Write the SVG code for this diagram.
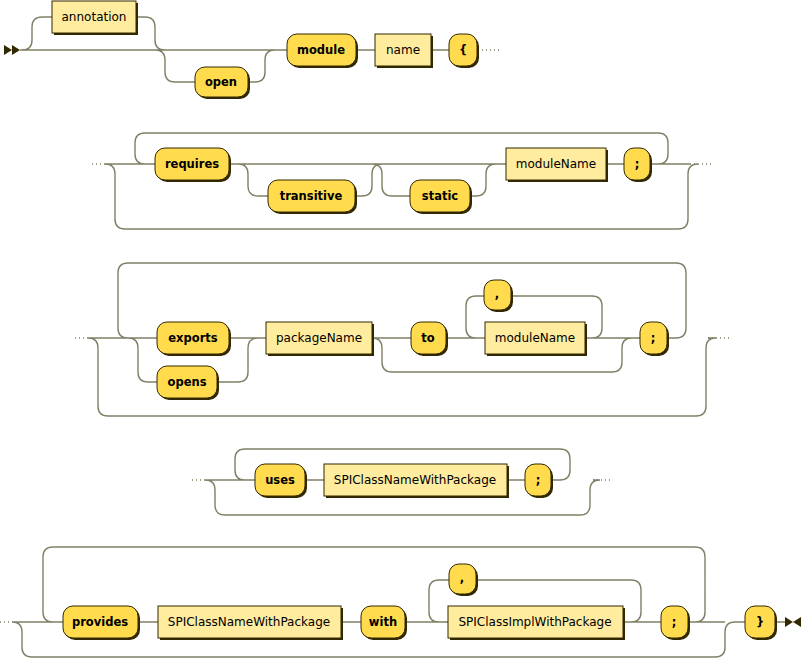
<svg xmlns="http://www.w3.org/2000/svg" width="802" height="658" viewBox="0 0 802 658">
<style>
.l{fill:none;stroke:#808066;stroke-width:1.4}
.d{fill:none;stroke:#808066;stroke-width:1.4;stroke-dasharray:1 3}
.s{fill:#332900}
.t{fill:#FFDB4D;stroke:#332900;stroke-width:1}
.n{fill:#FFEC9E;stroke:#332900;stroke-width:1}
text{font-family:"DejaVu Sans",Verdana,sans-serif;font-size:12px;fill:#000;text-anchor:middle}
.b{font-weight:bold;font-size:11.5px}
</style>
<rect width="802" height="658" fill="#fff"/>
<g id="connectors">
<polygon points="4,45 12,50 4,55" class="s"/><polygon points="12,45 20,50 12,55" class="s"/>
<path class="l" d="M20,50H287M22,50q10,0 10,-10V27q0,-10 10,-10H52M136,17H145q10,0 10,10V40q0,10 10,10M155,50q10,0 10,10V72q0,10 10,10H195M248,82H255q10,0 10,-10V60q0,-10 10,-10M356,50H375M431,50H449"/>
<path class="d" d="M478,50H500M92,164H105M75,338H88M192,480H205M0,622H12M690,164H712M708,338H730M593,480H613"/>
<path class="l" d="M105,164H155M105,164q10,0 10,10V219q0,10 10,10H678q10,0 10,-10V174q0,-10 10,-10M650,164H658q10,0 10,-10V143q0,-10 -10,-10H145q-10,0 -10,10V154q0,10 10,10M229,164H506M229,164H238q10,0 10,10V186q0,10 10,10H268M355,196H362q10,0 10,-10V174q0,-10 10,-10M372,164q10,0 10,10V186q0,10 10,10H410M470,196H476q10,0 10,-10V174q0,-10 10,-10M606,164H624M650,164H690"/>
<path class="l" d="M88,338H157M88,338q10,0 10,10V406q0,10 10,10H696q10,0 10,-10V348q0,-10 10,-10H708M667,338H676q10,0 10,-10V273q0,-10 -10,-10H128q-10,0 -10,10V328q0,10 10,10M128,338q10,0 10,10V372q0,10 10,10H157M217,382H238q10,0 10,-10V348q0,-10 10,-10H266M229,338H266M372,338H411M446,338H485M585,338H640M372,338q10,0 10,10V362q0,10 10,10H612q10,0 10,-10V348q0,-10 10,-10M585,338H592q10,0 10,-10V306q0,-10 -10,-10H511M484,296H476q-10,0 -10,10V328q0,10 10,10"/>
<path class="l" d="M205,480H255M205,480q10,0 10,10V505q0,10 10,10H580q10,0 10,-10V490q0,-10 10,-10H593M551,480H560q10,0 10,-10V459q0,-10 -10,-10H245q-10,0 -10,10V470q0,10 10,10M305,480H324M507,480H525"/>
<path class="l" d="M12,622H63M12,622q10,0 10,10V647q0,10 10,10H715q10,0 10,-10V632q0,-10 10,-10H745M688,622H695q10,0 10,-10V557q0,-10 -10,-10H53q-10,0 -10,10V612q0,10 10,10M138,622H158M341,622H361M405,622H448M623,622H661M775,622H785M623,622H631q10,0 10,-10V590q0,-10 -10,-10H476M449,580H439q-10,0 -10,10V612q0,10 10,10M688,622H725"/>
<polygon points="785,617 793,622 785,627" class="s"/><polygon points="801,617 793,622 801,627" class="s"/>
</g>
<g id="annotation"><rect x="54" y="3" width="84" height="32" class="s"/><rect x="52" y="1" width="84" height="32" class="n"/><text x="94" y="21">annotation</text></g>
<g id="open"><rect x="197" y="69" width="53" height="30" rx="10" class="s"/><rect x="195" y="67" width="53" height="30" rx="10" class="t"/><text class="b" x="221" y="86">open</text></g>
<g id="module"><rect x="289" y="36" width="69" height="32" rx="10" class="s"/><rect x="287" y="34" width="69" height="32" rx="10" class="t"/><text class="b" x="321" y="54">module</text></g>
<g id="name"><rect x="377" y="36" width="56" height="32" class="s"/><rect x="375" y="34" width="56" height="32" class="n"/><text x="403" y="54">name</text></g>
<g id="lbrace"><rect x="451" y="36" width="28" height="32" rx="10" class="s"/><rect x="449" y="34" width="28" height="32" rx="10" class="t"/><text class="b" x="463" y="54">{</text></g>

<g id="requires"><rect x="157" y="150" width="74" height="32" rx="10" class="s"/><rect x="155" y="148" width="74" height="32" rx="10" class="t"/><text class="b" x="192" y="168">requires</text></g>
<g id="transitive"><rect x="270" y="182" width="87" height="32" rx="10" class="s"/><rect x="268" y="180" width="87" height="32" rx="10" class="t"/><text class="b" x="311" y="200">transitive</text></g>
<g id="static"><rect x="412" y="182" width="60" height="32" rx="10" class="s"/><rect x="410" y="180" width="60" height="32" rx="10" class="t"/><text class="b" x="440" y="200">static</text></g>
<g id="moduleName1"><rect x="508" y="150" width="100" height="32" class="s"/><rect x="506" y="148" width="100" height="32" class="n"/><text x="556" y="168">moduleName</text></g>
<g id="semi1"><rect x="626" y="150" width="26" height="32" rx="10" class="s"/><rect x="624" y="148" width="26" height="32" rx="10" class="t"/><text class="b" x="637" y="168">;</text></g>

<g id="exports"><rect x="159" y="324" width="72" height="32" rx="10" class="s"/><rect x="157" y="322" width="72" height="32" rx="10" class="t"/><text class="b" x="193" y="342">exports</text></g>
<g id="opens"><rect x="159" y="368" width="60" height="32" rx="10" class="s"/><rect x="157" y="366" width="60" height="32" rx="10" class="t"/><text class="b" x="187" y="386">opens</text></g>
<g id="packageName"><rect x="268" y="324" width="106" height="32" class="s"/><rect x="266" y="322" width="106" height="32" class="n"/><text x="319" y="342">packageName</text></g>
<g id="to"><rect x="413" y="324" width="35" height="32" rx="10" class="s"/><rect x="411" y="322" width="35" height="32" rx="10" class="t"/><text class="b" x="428" y="342">to</text></g>
<g id="comma1"><rect x="486" y="282" width="27" height="30" rx="10" class="s"/><rect x="484" y="280" width="27" height="30" rx="10" class="t"/><text class="b" x="497" y="298">,</text></g>
<g id="moduleName2"><rect x="487" y="324" width="100" height="32" class="s"/><rect x="485" y="322" width="100" height="32" class="n"/><text x="535" y="342">moduleName</text></g>
<g id="semi2"><rect x="642" y="324" width="27" height="32" rx="10" class="s"/><rect x="640" y="322" width="27" height="32" rx="10" class="t"/><text class="b" x="653" y="342">;</text></g>

<g id="uses"><rect x="257" y="466" width="50" height="32" rx="10" class="s"/><rect x="255" y="464" width="50" height="32" rx="10" class="t"/><text class="b" x="280" y="484">uses</text></g>
<g id="spi1"><rect x="326" y="466" width="183" height="32" class="s"/><rect x="324" y="464" width="183" height="32" class="n"/><text x="415" y="484">SPIClassNameWithPackage</text></g>
<g id="semi3"><rect x="527" y="466" width="26" height="32" rx="10" class="s"/><rect x="525" y="464" width="26" height="32" rx="10" class="t"/><text class="b" x="538" y="484">;</text></g>

<g id="provides"><rect x="65" y="608" width="75" height="32" rx="10" class="s"/><rect x="63" y="606" width="75" height="32" rx="10" class="t"/><text class="b" x="100" y="626">provides</text></g>
<g id="spi2"><rect x="160" y="608" width="183" height="32" class="s"/><rect x="158" y="606" width="183" height="32" class="n"/><text x="249" y="626">SPIClassNameWithPackage</text></g>
<g id="with"><rect x="363" y="608" width="44" height="32" rx="10" class="s"/><rect x="361" y="606" width="44" height="32" rx="10" class="t"/><text class="b" x="383" y="626">with</text></g>
<g id="comma2"><rect x="451" y="566" width="27" height="30" rx="10" class="s"/><rect x="449" y="564" width="27" height="30" rx="10" class="t"/><text class="b" x="462" y="582">,</text></g>
<g id="spiImpl"><rect x="450" y="608" width="175" height="32" class="s"/><rect x="448" y="606" width="175" height="32" class="n"/><text x="535" y="626">SPIClassImplWithPackage</text></g>
<g id="semi4"><rect x="663" y="608" width="27" height="32" rx="10" class="s"/><rect x="661" y="606" width="27" height="32" rx="10" class="t"/><text class="b" x="674" y="626">;</text></g>
<g id="rbrace"><rect x="747" y="608" width="30" height="32" rx="10" class="s"/><rect x="745" y="606" width="30" height="32" rx="10" class="t"/><text class="b" x="760" y="626">}</text></g>
</svg>
